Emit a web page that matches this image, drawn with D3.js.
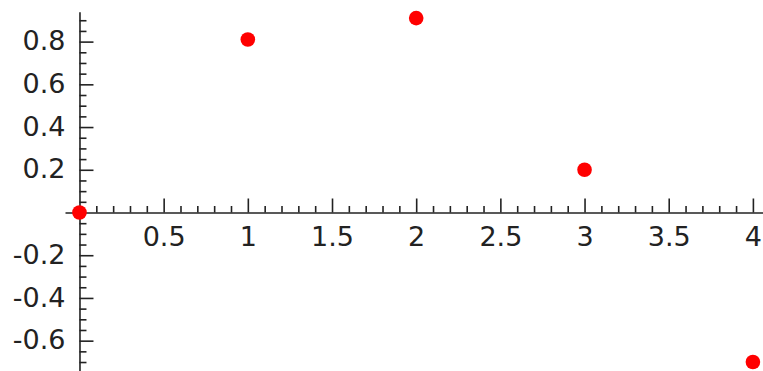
<!DOCTYPE html>
<html>
<head>
<meta charset="utf-8">
<script src="https://cdn.jsdelivr.net/npm/d3@7"></script>
<style>
  html, body { margin: 0; padding: 0; background: #fff; }
  svg { display: block; }
  .tick text { font-family: "DejaVu Sans", sans-serif; fill: #222; }
</style>
</head>
<body>
<svg id="chart" width="763" height="371"></svg>
<script>
// Sample points
const xs = [0, 1, 2, 3, 4];
const ys = [0, 0.81, 0.91, 0.2, -0.7];

// Labelled ticks (the origin itself is left unlabelled)
const xTicks = [0.5, 1, 1.5, 2, 2.5, 3, 3.5, 4];
const yTicks = [-0.6, -0.4, -0.2, 0.2, 0.4, 0.6, 0.8];

// Visible extent of each axis line
const xExtent = [-0.086, 4.06];
const yExtent = [-0.742, 0.94];

const W = 763, H = 371;
const svg = d3.select("#chart");

const x = d3.scaleLinear().domain(xExtent).range([65, W]);
const y = d3.scaleLinear().domain(yExtent).range([H, 11.7]);

const ink = "#222";
const fontSize = 27;

// minor tick positions
const xMinor = d3.range(1, 41).map(i => i / 10).filter(v => Math.abs(v * 2 - Math.round(v * 2)) > 1e-9);
const yMinor = d3.range(-14, 19).map(i => i / 20)
  .filter(v => Math.abs(v * 5 - Math.round(v * 5)) > 1e-9 && v >= yExtent[0] && v <= yExtent[1]);

// x axis: line through y = 0, ticks pointing up
const gx = svg.append("g").attr("transform", `translate(0,${y(0)})`);
gx.append("g")
  .call(d3.axisBottom(x).tickValues(xMinor).tickSizeInner(-6.5).tickSizeOuter(0).tickFormat(""))
  .call(g => g.select(".domain").remove());
gx.append("g")
  .call(d3.axisBottom(x).tickValues(xTicks).tickSizeInner(-14).tickSizeOuter(0).tickPadding(14)
    .tickFormat(d => String(d)));
gx.selectAll("line, path").attr("stroke", ink).attr("stroke-width", 1.6);
gx.selectAll("text").attr("font-size", fontSize);

// y axis: line through x = 0, ticks pointing right
const gy = svg.append("g").attr("transform", `translate(${x(0)},0)`);
gy.append("g")
  .call(d3.axisLeft(y).tickValues(yMinor).tickSizeInner(-7).tickSizeOuter(0).tickFormat(""))
  .call(g => g.select(".domain").remove());
gy.append("g")
  .call(d3.axisLeft(y).tickValues(yTicks).tickSizeInner(-14).tickSizeOuter(0).tickPadding(14)
    .tickFormat(d => String(d)));
gy.selectAll("line, path").attr("stroke", ink).attr("stroke-width", 1.6);
gy.selectAll("text").attr("font-size", fontSize).attr("dy", "0.3em");

// points
svg.append("g").selectAll("circle")
  .data(xs.map((v, i) => [v, ys[i]]))
  .join("circle")
  .attr("cx", d => x(d[0]))
  .attr("cy", d => y(d[1]))
  .attr("r", 7.3)
  .attr("fill", "#ff0000");
</script>
</body>
</html>
